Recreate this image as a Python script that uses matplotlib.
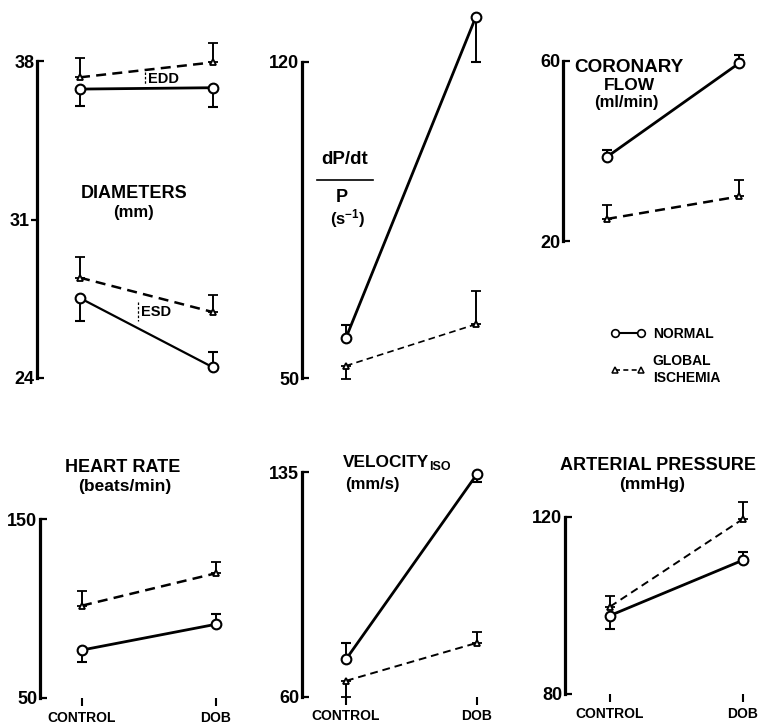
import matplotlib
matplotlib.use("Agg")
import matplotlib.pyplot as plt
from matplotlib.lines import Line2D

plt.rcParams['font.family'] = ['Liberation Sans', 'DejaVu Sans']
plt.rcParams['font.weight'] = 'bold'
plt.rcParams['mathtext.fontset'] = 'custom'
plt.rcParams['mathtext.bf'] = 'Liberation Sans:bold'
plt.rcParams['mathtext.rm'] = 'Liberation Sans:bold'
plt.rcParams['mathtext.default'] = 'bf'

conditions = ["CONTROL", "DOB"]

# values; error sign: + = bar drawn upward, - = bar drawn downward
edd_normal = [36.76, 36.82]; edd_normal_err = [-0.76, -0.85]
edd_isch = [37.28, 37.94];   edd_isch_err = [0.84, 0.84]
esd_normal = [27.53, 24.47]; esd_normal_err = [-1.02, 0.70]
esd_isch = [28.43, 26.91];   esd_isch_err = [0.91, 0.74]

dpdt_normal = [58.9, 130.0]; dpdt_normal_err = [2.8, -10.0]
dpdt_isch = [52.7, 61.9];    dpdt_isch_err = [-3.0, 7.4]

cf_normal = [38.7, 59.5];    cf_normal_err = [1.5, 1.8]
cf_isch = [24.9, 29.9];      cf_isch_err = [3.2, 3.7]

hr_normal = [76.8, 91.2];    hr_normal_err = [-6.9, 5.7]
hr_isch = [101.6, 119.7];    hr_isch_err = [8.2, 6.5]

vel_normal = [72.5, 134.4];  vel_normal_err = [5.5, -2.5]
vel_isch = [65.3, 78.0];     vel_isch_err = [-5.3, 3.5]

ap_normal = [97.7, 110.2];   ap_normal_err = [-3.0, 1.9]
ap_isch = [99.7, 119.5];     ap_isch_err = [2.5, 3.9]

W, H = 761, 726
fig = plt.figure(figsize=(W / 100, H / 100), dpi=100)


def make_panel(axis_x, y_top, y_bot, ctrl, dob, ymin, ymax, ticks, mid_ticks=(), bottom=False):
    right = dob + 22
    ax = fig.add_axes([axis_x / W, 1 - y_bot / H, (right - axis_x) / W, (y_bot - y_top) / H])
    span = dob - ctrl
    ax.set_xlim((axis_x - ctrl) / span, (right - ctrl) / span)
    ax.set_ylim(ymin, ymax)
    for s in ['top', 'right', 'bottom']:
        ax.spines[s].set_visible(False)
    ax.spines['left'].set_linewidth(2.3)
    ax.set_yticks(ticks)
    ax.set_yticklabels([str(t) for t in ticks])
    ax.tick_params(axis='y', direction='in', length=5, width=1.6, labelsize=13, pad=2)
    if mid_ticks:
        ax.set_yticks(list(mid_ticks), minor=True)
        ax.set_yticklabels([str(t) for t in mid_ticks], minor=True)
        ax.tick_params(axis='y', which='minor', direction='out', length=4, width=1.6, labelsize=13, pad=1)
    if bottom:
        ax.set_xticks([0, 1])
        ax.set_xticklabels(conditions)
        ax.tick_params(axis='x', direction='out', length=6, width=1.5, labelsize=10, pad=3)
        for lbl in ax.get_xticklabels():
            lbl.set_fontweight('bold')
    else:
        ax.set_xticks([])
    for lbl in ax.get_yticklabels(which='both'):
        lbl.set_fontweight('bold')
    ax.patch.set_alpha(0)
    return ax


def series(ax, vals, errs, kind, lw=None):
    lo = [max(-e, 0) for e in errs]
    hi = [max(e, 0) for e in errs]
    if kind == 'normal':
        return ax.errorbar([0, 1], vals, yerr=[lo, hi], fmt='-', marker='o', ms=7,
                           mfc='white', mec='black', mew=1.5, color='black',
                           lw=lw or 2.0, ecolor='black', elinewidth=1.4, capsize=3.5,
                           capthick=1.4, clip_on=False, zorder=3)
    return ax.errorbar([0, 1], vals, yerr=[lo, hi], fmt='--', marker='^', ms=5,
                       mfc='white', mec='black', mew=1.3, color='black',
                       lw=lw or 1.8, ecolor='black', elinewidth=1.4, capsize=3.5,
                       capthick=1.4, clip_on=False, zorder=3, dashes=(4, 2.5))


# Panel 1: diameters
ax1 = make_panel(37, 61, 378, 80, 213, 24, 38, [24, 38], mid_ticks=[31])
series(ax1, edd_isch, edd_isch_err, 'isch')
series(ax1, edd_normal, edd_normal_err, 'normal')
series(ax1, esd_isch, esd_isch_err, 'isch')
series(ax1, esd_normal, esd_normal_err, 'normal', lw=1.6)

# Panel 2: dP/dt / P
ax2 = make_panel(302, 61.7, 378, 346, 476, 50, 120, [50, 120])
series(ax2, dpdt_normal, dpdt_normal_err, 'normal')
series(ax2, dpdt_isch, dpdt_isch_err, 'isch', lw=1.2)

# Panel 3: coronary flow
ax3 = make_panel(563, 61, 241, 607, 739, 20, 60, [20, 60])
series(ax3, cf_normal, cf_normal_err, 'normal')
series(ax3, cf_isch, cf_isch_err, 'isch')

# Panel 4: heart rate
ax4 = make_panel(40, 519, 698, 82, 216, 50, 150, [50, 150], bottom=True)
series(ax4, hr_isch, hr_isch_err, 'isch')
series(ax4, hr_normal, hr_normal_err, 'normal')

# Panel 5: velocity iso
ax5 = make_panel(302, 472.3, 696.7, 346, 477, 60, 135, [60, 135], bottom=True)
series(ax5, vel_normal, vel_normal_err, 'normal')
series(ax5, vel_isch, vel_isch_err, 'isch', lw=1.4)

# Panel 6: arterial pressure
ax6 = make_panel(565, 516.7, 694, 610, 743, 80, 120, [80, 120], bottom=True)
series(ax6, ap_isch, ap_isch_err, 'isch', lw=1.4)
series(ax6, ap_normal, ap_normal_err, 'normal')


def ftext(x, y, s, size=12, ha='center', **kw):
    fig.text(x / W, 1 - y / H, s, fontsize=size, ha=ha, va='center', fontweight='bold', **kw)


def fline(x0, y0, x1, y1, **kw):
    fig.add_artist(Line2D([x0 / W, x1 / W], [1 - y0 / H, 1 - y1 / H], color='black', **kw))


# texts
ftext(134, 193, "DIAMETERS", 13)
ftext(134, 212, "(mm)", 12)
ftext(148, 79, "EDD", 10.5, ha='left')
fline(145, 72, 145, 84, lw=0.9, ls=(0, (2, 1.5)))
ftext(141, 312, "ESD", 10.5, ha='left')
fline(138, 302, 138, 321, lw=0.9, ls=(0, (2, 1.5)))

ftext(345, 160, "dP/dt", 13.5)
fline(317, 180, 373, 180, lw=1.2)
ftext(342, 198, "P", 13)
ftext(348, 219, "(s$^{-1}$)", 12)

ftext(629, 68, "CORONARY", 13.6)
ftext(629, 86, "FLOW", 12.5)
ftext(626, 103, "(ml/min)", 12)

ftext(123, 467, "HEART RATE", 13)
ftext(125, 486, "(beats/min)", 12.5)

ftext(343, 463, "VELOCITY", 12.4, ha='left')
ftext(429, 467, "ISO", 9, ha='left')
ftext(372, 485, "(mm/s)", 12)

ftext(658, 465, "ARTERIAL PRESSURE", 13)
ftext(652, 485, "(mmHg)", 12.5)

# legend
leg_n = Line2D([], [], color='black', lw=1.5, marker='o', ms=5.5, mfc='white', mec='black', mew=1.2)
leg_i = Line2D([], [], color='black', lw=1.2, ls=(0, (3, 2)), marker='^', ms=4.5, mfc='white', mec='black', mew=1.1)
fig.legend([leg_n, leg_i], ["NORMAL", "GLOBAL\nISCHEMIA"], numpoints=2, frameon=False,
           loc='upper left', bbox_to_anchor=(598 / W, 1 - 314 / H),
           handlelength=2.5, handletextpad=0.55, labelspacing=1.0, prop={'weight': 'bold', 'size': 10})

fig.savefig("out.png", dpi=100)
